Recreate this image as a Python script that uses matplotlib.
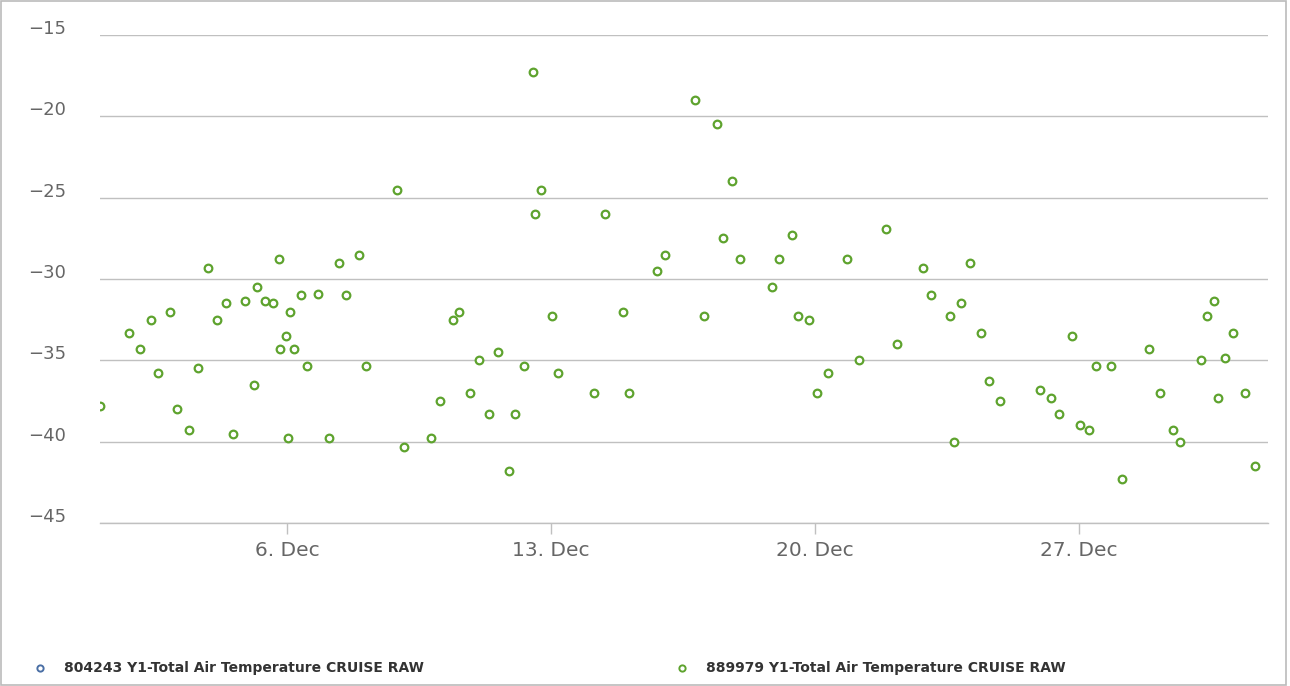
import numpy as np
import matplotlib
matplotlib.use("Agg")
import matplotlib.pyplot as plt
from matplotlib.lines import Line2D
from matplotlib.patches import Rectangle
import matplotlib.transforms as mtransforms

# Day of December (fractional) and temperature for series 889979
days = [1.04, 1.81, 2.10, 2.39, 2.58, 2.90, 3.08, 3.40, 3.64, 3.91, 4.14, 4.38, 4.57,
        4.89, 5.13, 5.21, 5.42, 5.63, 5.79, 5.81, 5.97, 6.08, 6.03, 6.19, 6.37, 6.53,
        6.82, 7.11, 7.38, 7.56, 7.91, 8.10, 8.92, 9.10, 9.82, 10.06, 10.40, 10.56,
        10.85, 11.09, 11.36, 11.60, 11.89, 12.05, 12.28, 12.52, 12.58, 12.74, 13.03,
        13.19, 14.14, 14.43, 14.91, 15.07, 15.81, 16.02, 16.82, 17.06, 17.40, 17.56,
        17.80, 18.01, 18.86, 19.05, 19.39, 19.55, 19.84, 20.05, 20.35, 20.85, 21.17,
        21.88, 22.17, 22.86, 23.08, 23.58, 23.69, 23.87, 24.11, 24.40, 24.61, 24.91,
        25.97, 26.26, 26.47, 26.82, 27.03, 27.27, 27.45, 27.85, 28.14, 28.86, 29.15,
        29.49, 29.68, 30.24, 30.39, 30.58, 30.69, 30.87, 31.08, 31.40, 31.67]
temps = [-37.8, -33.3, -34.3, -32.5, -35.8, -32.0, -38.0, -39.3, -35.5, -29.3, -32.5,
         -31.5, -39.5, -31.35, -36.5, -30.5, -31.35, -31.5, -28.8, -34.3, -33.5, -32.0,
         -39.8, -34.3, -31.0, -35.35, -30.9, -39.8, -29.0, -31.0, -28.5, -35.35, -24.5,
         -40.3, -39.8, -37.5, -32.5, -32.0, -37.0, -35.0, -38.3, -34.5, -41.8, -38.3,
         -35.35, -17.3, -26.0, -24.5, -32.3, -35.8, -37.0, -26.0, -32.0, -37.0, -29.5,
         -28.5, -19.0, -32.3, -20.5, -27.5, -24.0, -28.8, -30.5, -28.8, -27.3, -32.3,
         -32.5, -37.0, -35.8, -28.8, -35.0, -26.9, -34.0, -29.3, -31.0, -32.3, -40.0,
         -31.5, -29.0, -33.3, -36.3, -37.5, -36.8, -37.3, -38.3, -33.5, -39.0, -39.3,
         -35.35, -35.35, -42.3, -34.3, -37.0, -39.3, -40.0, -35.0, -32.3, -31.35, -37.3,
         -34.85, -33.3, -37.0, -41.5]

# Series 804243 has no visible points
days_804243 = []
temps_804243 = []

series_names = ["804243 Y1-Total Air Temperature CRUISE RAW",
                "889979 Y1-Total Air Temperature CRUISE RAW"]
series_colors = ["#4a6fa5", "#5ea32e"]
yticks = [-15, -20, -25, -30, -35, -40, -45]
xtick_days = [6, 13, 20, 27]

base = np.datetime64("2023-11-30T00:00")


def to_dates(d):
    d = np.asarray(d, dtype=float)
    return base + (d * 24 * 3600).astype("timedelta64[s]")


W, H = 1290, 686
fig = plt.figure(figsize=(W / 100, H / 100), dpi=100)
ax = fig.add_axes([100 / W, 1 - 523 / H, (1268 - 100) / W, (523 - 35) / H])

ax.plot(to_dates(days), temps, linestyle="none", marker="o", markersize=5.5,
        markerfacecolor="white", markeredgecolor=series_colors[1], markeredgewidth=1.6,
        zorder=3)
if days_804243:
    ax.plot(to_dates(days_804243), temps_804243, linestyle="none", marker="o",
            markersize=5.5, markerfacecolor="white",
            markeredgecolor=series_colors[0], markeredgewidth=1.6)

ax.set_ylim(-45, -15)
ax.set_xlim(to_dates([1.04])[0], to_dates([32.01])[0])
ax.set_yticks(yticks)
ax.set_yticklabels(["\u2212%d" % abs(v) for v in yticks])
ax.yaxis.grid(True, color="#c0c0c0", linewidth=1)
ax.set_axisbelow(True)

ax.set_xticks(to_dates(xtick_days))
ax.set_xticklabels(["%d. Dec" % d for d in xtick_days])

for s in ["top", "right", "left"]:
    ax.spines[s].set_visible(False)
ax.spines["bottom"].set_color("#c0c0c0")
ax.spines["bottom"].set_linewidth(1)

ax.tick_params(axis="y", length=0, labelsize=13, labelcolor="#666666", pad=52)
for lab in ax.get_yticklabels():
    lab.set_horizontalalignment("left")
    lab.set_transform(lab.get_transform() + mtransforms.ScaledTranslation(0, 8 / 100, fig.dpi_scale_trans))
ax.tick_params(axis="x", length=8, width=1, color="#c0c0c0", labelsize=14.5,
               labelcolor="#666666", pad=5)

# Legend at bottom
legend_y = 1 - 668 / H
for (lx, tx), name, col in zip([(40, 64), (682, 706)], series_names, series_colors):
    fig.add_artist(Line2D([lx / W], [legend_y], transform=fig.transFigure, marker="o",
                          markersize=4.5, markerfacecolor="white", markeredgecolor=col,
                          markeredgewidth=1.4, linestyle="none"))
    fig.text(tx / W, legend_y, name, fontsize=10, fontweight="bold", color="#333333",
             va="center", ha="left")

# outer frame
fig.add_artist(Rectangle((1 / W, 1 / H), (W - 5) / W, (H - 2) / H, transform=fig.transFigure,
                         fill=False, edgecolor="#bbbbbb", linewidth=1.2))

fig.savefig("out.png", dpi=100)
